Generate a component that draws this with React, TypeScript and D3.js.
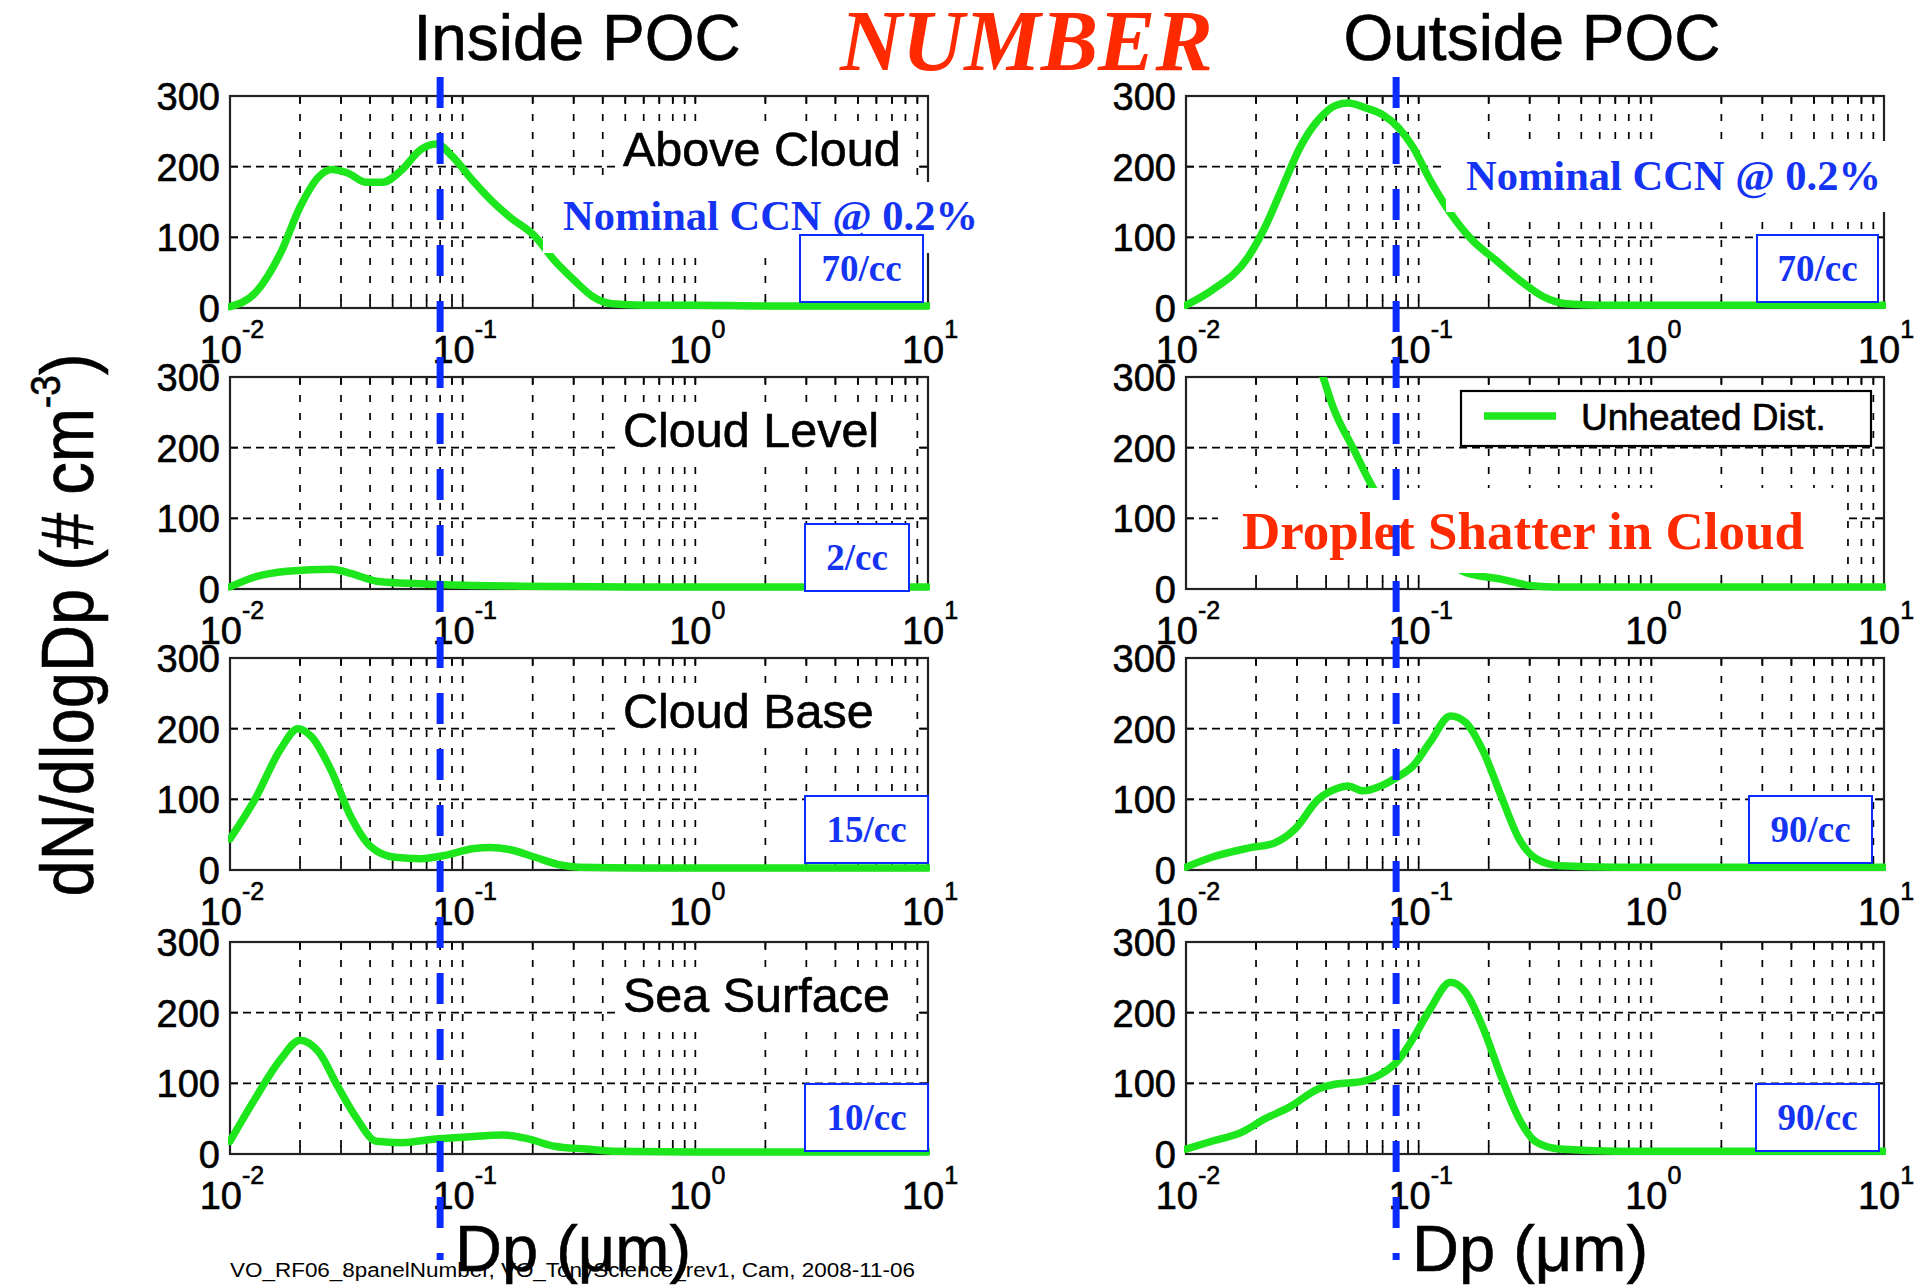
import React from 'react';
import * as d3 from 'd3';

// Size distributions: [Dp (µm), dN/dlogDp (# cm^-3)]
const insideAbove: [number, number][] = [
  [0.01, 2], [0.0128, 21], [0.0165, 78], [0.02, 143], [0.0241, 186], [0.0274, 196], [0.032, 191],
  [0.0386, 178], [0.0453, 178], [0.0546, 195], [0.066, 224], [0.0773, 232], [0.0906, 214],
  [0.11, 181], [0.132, 153], [0.159, 129], [0.205, 101], [0.247, 68], [0.3, 40], [0.363, 16],
  [0.44, 6], [0.6, 4], [1, 4], [2, 3], [5, 3], [10, 3],
];
const outsideAbove: [number, number][] = [
  [0.01, 4], [0.0129, 25], [0.0185, 72], [0.0219, 115], [0.026, 171], [0.031, 228], [0.037, 266],
  [0.0442, 287], [0.0496, 290], [0.0593, 283], [0.0705, 273], [0.0814, 256], [0.0944, 228],
  [0.112, 181], [0.134, 139], [0.17, 96], [0.214, 68], [0.27, 40], [0.343, 16], [0.43, 6],
  [0.6, 4], [1, 4], [2, 4], [5, 4], [10, 4],
];
const insideCloudLevel: [number, number][] = [
  [0.01, 3], [0.0128, 17], [0.0176, 25], [0.0274, 28], [0.033, 22], [0.0427, 11], [0.058, 8],
  [0.085, 6], [0.18, 4], [0.5, 3], [1, 3], [3, 3], [10, 3],
];
const outsideCloudLevel: [number, number][] = [
  [0.03, 390], [0.035, 340], [0.0388, 300], [0.0429, 257], [0.0527, 197], [0.0637, 143],
  [0.08, 100], [0.1, 68], [0.13, 40], [0.16, 23], [0.226, 14], [0.3, 5], [0.38, 3], [0.6, 3],
  [1, 3], [3, 3], [10, 3],
];
const insideCloudBase: [number, number][] = [
  [0.01, 44], [0.0128, 100], [0.0165, 171], [0.0196, 200], [0.0225, 188], [0.0274, 139],
  [0.033, 76], [0.04, 34], [0.051, 18], [0.066, 16], [0.085, 21], [0.11, 30], [0.132, 32],
  [0.159, 29], [0.205, 18], [0.264, 7], [0.317, 4], [0.6, 3], [1, 3], [3, 3], [10, 3],
];
const outsideCloudBase: [number, number][] = [
  [0.01, 4], [0.0129, 18], [0.0185, 31], [0.0239, 38], [0.0294, 58], [0.037, 100], [0.0442, 115],
  [0.0496, 119], [0.0576, 112], [0.0688, 119], [0.0814, 132], [0.0944, 147], [0.112, 181],
  [0.137, 218], [0.159, 209], [0.19, 167], [0.226, 105], [0.27, 44], [0.32, 16], [0.405, 6],
  [0.7, 4], [1, 4], [3, 4], [10, 4],
];
const insideSeaSurface: [number, number][] = [
  [0.01, 18], [0.0128, 78], [0.0165, 134], [0.02, 161], [0.0241, 144], [0.029, 96], [0.0351, 50],
  [0.0425, 18], [0.0546, 16], [0.075, 21], [0.103, 24], [0.15, 27], [0.193, 21], [0.248, 11],
  [0.34, 7], [0.44, 4], [1, 3], [3, 3], [10, 3],
];
const outsideSeaSurface: [number, number][] = [
  [0.01, 7], [0.0129, 18], [0.0174, 31], [0.0219, 50], [0.0277, 66], [0.037, 92], [0.0442, 99],
  [0.0558, 102], [0.0688, 113], [0.0814, 132], [0.0944, 163], [0.112, 205], [0.137, 243],
  [0.159, 229], [0.19, 177], [0.226, 110], [0.27, 50], [0.32, 17], [0.405, 7], [0.7, 4],
  [1, 4], [3, 4], [10, 4],
];

const rowLabels = ['Above Cloud', 'Cloud Level', 'Cloud Base', 'Sea Surface'];
const insideSeries = [insideAbove, insideCloudLevel, insideCloudBase, insideSeaSurface];
const outsideSeries = [outsideAbove, outsideCloudLevel, outsideCloudBase, outsideSeaSurface];
const insideCounts = ['70/cc', '2/cc', '15/cc', '10/cc'];
const outsideCounts = ['70/cc', '', '90/cc', '90/cc'];
const yTicks = [0, 100, 200, 300];
const xDecades = [0.01, 0.1, 1, 10];
const ccnCutDp = 0.08;
const columnTitles = ['Inside POC', 'Outside POC'];

const SANS = "'Liberation Sans', Arial, Helvetica, sans-serif";
const SERIF = "'Liberation Serif', 'Times New Roman', serif";
const GREEN = '#1de61d';
const BLUE = '#0b2cff';
const TEXT_BLUE = '#1433f2';
const RED = '#ff2a00';
const INK = 0.6; // slight outline so axis text reads as heavy as the plotted lines

const W = 1925;
const H = 1288;
const COLS = [
  { x0: 230, x1: 928 },
  { x0: 1186, x1: 1884 },
];
const TOPS = [96, 377, 658, 942];
const PH = 212;

// count-box geometry, [x, y offset from axes bottom, width, height]
const insideBoxes = [
  [800, -73, 123, 67],
  [805, -65, 104, 67],
  [805, -74, 123, 67],
  [805, -70, 123, 67],
];
const outsideBoxes = [
  [1757, -73, 121, 67],
  null,
  [1749, -74, 123, 67],
  [1756, -70, 123, 67],
];

const minorGrid: number[] = [];
for (let k = -2; k <= 0; k++) {
  for (let m = 1; m <= 9; m++) {
    const v = m * Math.pow(10, k);
    if (v > 0.0100001 && v < 9.9999) minorGrid.push(v);
  }
}

function Panel({ col, row, data, label, count, box }: any) {
  const { x0, x1 } = COLS[col];
  const top = TOPS[row];
  const bottom = top + PH;
  const xs = d3.scaleLog().domain([0.01, 10]).range([x0, x1]);
  const ys = d3.scaleLinear().domain([0, 300]).range([bottom, top]);
  const line = d3
    .line<[number, number]>()
    .x((d) => xs(d[0]))
    .y((d) => ys(d[1]))
    .curve(d3.curveMonotoneX);
  const clipId = `clip-${col}-${row}`;

  return (
    <g>
      <defs>
        <clipPath id={clipId}>
          <rect x={x0 - 2} y={top} width={x1 - x0 + 4} height={PH + 3} />
        </clipPath>
      </defs>
      {/* grid */}
      {minorGrid.map((v, i) => (
        <line
          key={`vg${i}`}
          x1={xs(v)}
          x2={xs(v)}
          y1={top}
          y2={bottom}
          stroke="#000"
          strokeWidth={1.7}
          strokeDasharray="7 11"
        />
      ))}
      {[100, 200].map((v) => (
        <line
          key={`hg${v}`}
          x1={x0}
          x2={x1}
          y1={ys(v)}
          y2={ys(v)}
          stroke="#000"
          strokeWidth={1.7}
          strokeDasharray="8 5"
        />
      ))}
      {/* ticks */}
      {minorGrid.map((v, i) => (
        <g key={`tk${i}`}>
          <line x1={xs(v)} x2={xs(v)} y1={bottom} y2={bottom - 8} stroke="#000" strokeWidth={1.7} />
          <line x1={xs(v)} x2={xs(v)} y1={top} y2={top + 8} stroke="#000" strokeWidth={1.7} />
        </g>
      ))}
      {yTicks.map((v) => (
        <g key={`yt${v}`}>
          <line x1={x0} x2={x0 + 8} y1={ys(v)} y2={ys(v)} stroke="#000" strokeWidth={1.7} />
          <line x1={x1} x2={x1 - 8} y1={ys(v)} y2={ys(v)} stroke="#000" strokeWidth={1.7} />
        </g>
      ))}
      {/* axes box */}
      <rect x={x0} y={top} width={x1 - x0} height={PH} fill="none" stroke="#222" strokeWidth={2.2} />
      {/* distribution */}
      <path
        d={line(data) || ''}
        fill="none"
        stroke={GREEN}
        strokeWidth={7.5}
        strokeLinejoin="round"
        strokeLinecap="round"
        clipPath={`url(#${clipId})`}
      />
      {/* y tick labels */}
      {yTicks.map((v) => (
        <text
          key={`yl${v}`}
          x={x0 - 10}
          y={ys(v) + 14}
          textAnchor="end"
          fontFamily={SANS}
          fontSize={38}
          fill="#000"
          stroke="#000"
          strokeWidth={INK}
        >
          {v}
        </text>
      ))}
      {/* x tick labels */}
      {xDecades.map((v) => (
        <text
          key={`xl${v}`}
          x={xs(v) + 2}
          y={bottom + 55}
          textAnchor="middle"
          fontFamily={SANS}
          fontSize={38}
          fill="#000"
          stroke="#000"
          strokeWidth={INK}
        >
          10
          <tspan dy={-25} fontSize={25}>
            {String(Math.round(Math.log10(v)))}
          </tspan>
        </text>
      ))}
      {/* altitude label */}
      {label && (
        <g>
          <rect x={620} y={top + 25} width={294} height={57} fill="#fff" />
          <text
            x={623}
            y={top + 70}
            fontFamily={SANS}
            fontSize={48.5}
            fill="#000"
            stroke="#000"
            strokeWidth={INK}
          >
            {label}
          </text>
        </g>
      )}
      {/* count box */}
      {box && count && (
        <g>
          <rect
            x={box[0]}
            y={bottom + box[1]}
            width={box[2]}
            height={box[3]}
            fill="#fff"
            stroke={BLUE}
            strokeWidth={2}
          />
          <text
            x={box[0] + box[2] / 2}
            y={bottom + box[1] + 46}
            textAnchor="middle"
            fontFamily={SERIF}
            fontWeight="bold"
            fontSize={37}
            fill={TEXT_BLUE}
          >
            {count}
          </text>
        </g>
      )}
    </g>
  );
}

export default function App() {
  const leftX = d3.scaleLog().domain([0.01, 10]).range([COLS[0].x0, COLS[0].x1]);
  const rightX = d3.scaleLog().domain([0.01, 10]).range([COLS[1].x0, COLS[1].x1]);

  return (
    <div style={{ position: 'absolute', left: 0, top: 0, width: W, height: H, background: '#fff' }}>
      <svg width={W} height={H} viewBox={`0 0 ${W} ${H}`} style={{ display: 'block' }}>
        <rect width={W} height={H} fill="#fff" />

        {rowLabels.map((lab, r) => (
          <Panel
            key={`in${r}`}
            col={0}
            row={r}
            data={insideSeries[r]}
            label={lab}
            count={insideCounts[r]}
            box={insideBoxes[r]}
          />
        ))}
        {rowLabels.map((_, r) => (
          <Panel
            key={`out${r}`}
            col={1}
            row={r}
            data={outsideSeries[r]}
            label={null}
            count={outsideCounts[r]}
            box={outsideBoxes[r]}
          />
        ))}

        {/* CCN annotation, inside column */}
        <rect x={543} y={182} width={445} height={71} fill="#fff" />
        <text x={563} y={230} fontFamily={SERIF} fontWeight="bold" fontSize={42.5} fill={TEXT_BLUE}>
          Nominal CCN @ 0.2%
        </text>
        <rect x={800} y={235} width={123} height={67} fill="#fff" stroke={BLUE} strokeWidth={2} />
        <text
          x={861.5}
          y={281}
          textAnchor="middle"
          fontFamily={SERIF}
          fontWeight="bold"
          fontSize={37}
          fill={TEXT_BLUE}
        >
          {insideCounts[0]}
        </text>

        {/* CCN annotation, outside column */}
        <rect x={1446} y={141} width={445} height={71} fill="#fff" />
        <text x={1466} y={190} fontFamily={SERIF} fontWeight="bold" fontSize={42.5} fill={TEXT_BLUE}>
          Nominal CCN @ 0.2%
        </text>
        <rect x={1757} y={235} width={121} height={67} fill="#fff" stroke={BLUE} strokeWidth={2} />
        <text
          x={1817.5}
          y={281}
          textAnchor="middle"
          fontFamily={SERIF}
          fontWeight="bold"
          fontSize={37}
          fill={TEXT_BLUE}
        >
          {outsideCounts[0]}
        </text>

        {/* legend */}
        <rect x={1461} y={391} width={410} height={55} fill="#fff" stroke="#000" strokeWidth={2.2} />
        <line x1={1484} x2={1556} y1={416} y2={416} stroke={GREEN} strokeWidth={7.5} />
        <text x={1581} y={430} fontFamily={SANS} fontSize={37} fill="#000" stroke="#000" strokeWidth={INK}>
          Unheated Dist.
        </text>

        {/* shatter note */}
        <rect x={1218} y={488} width={626} height={85} fill="#fff" />
        <text x={1242} y={549} fontFamily={SERIF} fontWeight="bold" fontSize={53} fill={RED}>
          Droplet Shatter in Cloud
        </text>

        {/* titles */}
        <text x={577} y={60} textAnchor="middle" fontFamily={SANS} fontSize={64} fill="#000" stroke="#000" strokeWidth={INK}>
          {columnTitles[0]}
        </text>
        <text x={1532} y={60} textAnchor="middle" fontFamily={SANS} fontSize={64} fill="#000" stroke="#000" strokeWidth={INK}>
          {columnTitles[1]}
        </text>
        <text
          x={840}
          y={70}
          fontFamily={SERIF}
          fontWeight="bold"
          fontStyle="italic"
          fontSize={86}
          fill={RED}
        >
          NUMBER
        </text>

        {/* y axis title */}
        <text
          transform="translate(93,625) rotate(-90) scale(0.88,1)"
          textAnchor="middle"
          fontFamily={SANS}
          fontSize={74}
          fill="#000"
          stroke="#000"
          strokeWidth={INK}
        >
          dN/dlogDp (# cm
          <tspan dy={-33} fontSize={42}>
            -3
          </tspan>
          <tspan dy={33}>)</tspan>
        </text>

        {/* footnote and x axis titles */}
        <text x={230} y={1277} fontFamily={SANS} fontSize={20} fill="#000" textLength={685} lengthAdjust="spacingAndGlyphs">
          VO_RF06_8panelNumber, VO_TonyScience_rev1, Cam, 2008-11-06
        </text>
        <text x={455} y={1271} fontFamily={SANS} fontSize={65} fill="#000" stroke="#000" strokeWidth={INK}>
          Dp (μm)
        </text>
        <text x={1412} y={1271} fontFamily={SANS} fontSize={65} fill="#000" stroke="#000" strokeWidth={INK}>
          Dp (μm)
        </text>

        {/* CCN cut size */}
        {[leftX, rightX].map((xs, i) => (
          <line
            key={`cut${i}`}
            x1={xs(ccnCutDp)}
            x2={xs(ccnCutDp)}
            y1={77}
            y2={1260}
            stroke={BLUE}
            strokeWidth={7}
            strokeDasharray="31 25"
          />
        ))}
      </svg>
    </div>
  );
}
